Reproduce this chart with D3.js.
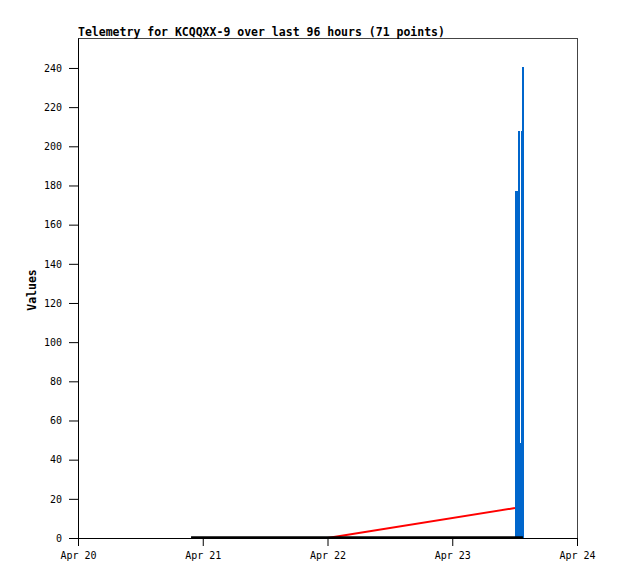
<!DOCTYPE html>
<html><head><meta charset="utf-8">
<script src="https://cdn.jsdelivr.net/npm/d3@7"></script>
<style>body{margin:0;background:#fff}</style>
</head><body>
<script>
// Hours since Apr 20 00:00
const xTickLabels = ["Apr 20","Apr 21","Apr 22","Apr 23","Apr 24"];
const xTickHours = [0,24,48,72,96];
const yTicks = [0,20,40,60,80,100,120,140,160,180,200,220,240];
// black series (zero values)
const blackHours = [21.75, 85.6];
const blackValues = [0, 0];
// red series
const redHours = [48, 84.07];
const redValues = [0, 15.3];
// blue series (step bars): start hour, end hour, value
const blueStart = [84.07, 84.65, 85.03, 85.17, 85.42];
const blueEnd   = [84.65, 85.03, 85.17, 85.42, 85.80];
const blueValues = [177, 208, 48.5, 208, 240.5];

const W=618,H=579, L=78, R=577, T=38, B=538;
const svg=d3.select("body").append("svg").attr("width",W).attr("height",H);
const x=d3.scaleLinear().domain([0,96]).range([L,R]);
const y=d3.scaleLinear().domain([0,255.3]).range([B,T]);
const mono="'DejaVu Sans Mono', monospace";

// frame
svg.append("rect").attr("x",L+0.5).attr("y",T+0.5).attr("width",R-L).attr("height",B-T)
  .attr("fill","none").attr("stroke","#444").attr("stroke-width",1);

// blue bars
svg.append("g").selectAll("rect").data(blueValues).join("rect")
  .attr("x",(d,i)=>x(blueStart[i])).attr("width",(d,i)=>x(blueEnd[i])-x(blueStart[i]))
  .attr("y",d=>y(d)).attr("height",d=>B-y(d)).attr("fill","#0066cc").attr("shape-rendering","crispEdges");

// red line
svg.append("path").datum(redHours.map((h,i)=>[h,redValues[i]]))
  .attr("d",d3.line().x(d=>x(d[0])).y(d=>y(d[1]))).attr("fill","none").attr("stroke","#ff0000").attr("stroke-width",2);

// black line
svg.append("path").datum(blackHours.map((h,i)=>[h,blackValues[i]]))
  .attr("d",d3.line().x(d=>x(d[0])).y(d=>y(d[1])-0.5)).attr("fill","none").attr("stroke","#000").attr("stroke-width",2.5);

// axes
const ya=svg.append("g").attr("transform",`translate(${L},0)`)
  .call(d3.axisLeft(y).tickValues(yTicks).tickSize(9).tickSizeOuter(0).tickPadding(7));
ya.selectAll("text").attr("font-family",mono).attr("font-size","10px").attr("fill","#000");
ya.select(".domain").attr("stroke","#000");
const xa=svg.append("g").attr("transform",`translate(0,${B})`)
  .call(d3.axisBottom(x).tickValues(xTickHours).tickFormat((d,i)=>xTickLabels[i]).tickSize(8).tickSizeOuter(0).tickPadding(6));
xa.selectAll("text").attr("font-family",mono).attr("font-size","10px").attr("fill","#000");
xa.select(".domain").attr("stroke","#000");

// title
svg.append("text").attr("x",L).attr("y",35.5).attr("font-family",mono).attr("font-weight","bold")
  .attr("font-size","11.5px").text("Telemetry for KCQQXX-9 over last 96 hours (71 points)");
// y label
svg.append("text").attr("transform","translate(36,290) rotate(-90)").attr("text-anchor","middle")
  .attr("font-family",mono).attr("font-weight","bold").attr("font-size","11.5px").text("Values");
</script>
</body></html>
